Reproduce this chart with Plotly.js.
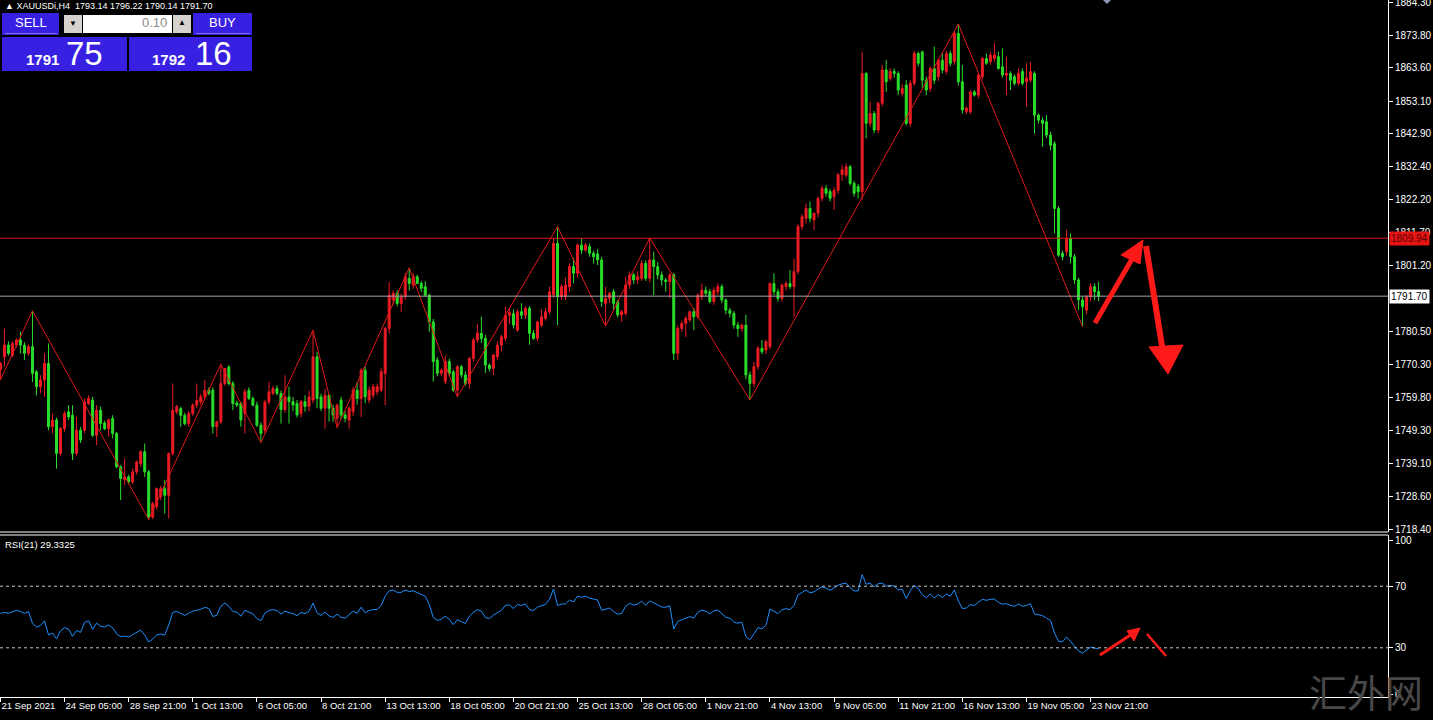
<!DOCTYPE html>
<html><head><meta charset="utf-8">
<script src="https://cdn.plot.ly/plotly-3.0.1.min.js"></script>
<style>html,body{margin:0;padding:0;background:#000;overflow:hidden}#chart{width:1433px;height:720px}</style>
</head><body><div id="chart"></div>
<script>
// ---------- DATA ----------
const symbolInfo = 'XAUUSDi,H4  1793.14 1796.22 1790.14 1791.70';
const rsiLabel = 'RSI(21) 29.3325';
const tickBars = [0,16,32,48,64,80,96,112,128,144,160,176,192,208,224,240,256,272];
const tickLabels = ['21 Sep 2021','24 Sep 05:00','28 Sep 21:00','1 Oct 13:00','6 Oct 05:00','8 Oct 21:00','13 Oct 13:00','18 Oct 05:00','20 Oct 21:00','25 Oct 13:00','28 Oct 05:00','1 Nov 21:00','4 Nov 13:00','9 Nov 05:00','11 Nov 21:00','16 Nov 13:00','19 Nov 05:00','23 Nov 21:00'];
const priceTicks = [1884.30,1873.80,1863.60,1853.10,1842.90,1832.40,1822.20,1811.70,1801.20,1780.50,1770.30,1759.80,1749.30,1739.10,1728.60,1718.40];
const rsiTicks = [0,30,70,100];
const rsiLevels = [30,70];
const resistanceLevel = 1809.94;
const bidPrice = 1791.70;

const openP = [
1768.5,1772.6,1776.3,1773.1,1776.3,1777.9,1776.3,1773.7,1775.8,1767.9,
1763.2,1765.3,1770.5,1750.6,1752.7,1742.2,1750.0,1755.3,1754.2,1742.2,
1749.5,1749.5,1757.9,1759.0,1747.9,1755.8,1751.8,1750.0,1753.2,1748.5,
1738.0,1734.0,1734.8,1733.2,1736.4,1739.0,1742.7,1736.4,1722.2,1725.4,
1728.5,1731.1,1729.0,1742.2,1755.3,1756.3,1754.2,1751.6,1754.8,1757.4,
1758.4,1760.0,1762.1,1762.1,1750.6,1752.1,1764.2,1769.4,1764.2,1758.1,
1757.9,1754.8,1762.1,1759.5,1757.4,1751.1,1749.5,1758.4,1761.1,1762.6,
1761.1,1756.0,1760.0,1758.5,1757.9,1754.8,1758.5,1757.0,1759.0,1772.6,
1760.0,1756.4,1760.5,1756.4,1753.2,1759.0,1754.3,1752.7,1755.3,1762.1,
1759.5,1768.4,1759.0,1760.5,1761.6,1762.1,1767.4,1781.5,1790.5,1792.6,
1789.4,1791.5,1797.3,1795.2,1797.8,1795.7,1794.7,1792.0,1783.6,1771.6,
1767.4,1764.8,1771.1,1767.9,1762.1,1769.5,1766.9,1764.2,1772.1,1777.9,
1780.0,1778.4,1770.0,1769.0,1772.6,1776.3,1778.4,1785.7,1786.2,1781.0,
1786.8,1785.7,1787.9,1780.0,1778.4,1782.6,1784.7,1786.8,1792.1,1808.3,
1791.5,1791.5,1794.7,1801.0,1798.9,1807.8,1806.2,1807.3,1805.2,1805.0,
1803.1,1789.4,1791.0,1793.1,1789.9,1785.8,1786.3,1795.2,1798.4,1796.8,
1797.3,1802.0,1797.3,1803.1,1801.0,1798.4,1796.8,1796.3,1798.4,1773.7,
1781.5,1783.1,1784.2,1786.8,1785.2,1791.5,1793.6,1793.1,1790.0,1793.1,
1794.7,1790.5,1787.3,1786.3,1782.6,1781.5,1782.6,1766.9,1764.2,1769.5,
1775.3,1774.7,1775.8,1795.7,1793.1,1791.0,1794.7,1795.7,1794.7,1799.4,
1813.6,1816.2,1819.3,1815.7,1817.8,1822.5,1825.6,1824.6,1823.0,1825.0,
1829.9,1829.8,1832.4,1827.2,1826.2,1824.6,1861.8,1846.1,1849.2,1844.0,
1852.4,1862.9,1860.2,1862.4,1861.8,1855.5,1858.2,1846.1,1858.7,1868.1,
1868.6,1859.7,1857.1,1863.4,1860.8,1866.0,1862.4,1868.1,1865.5,1874.4,
1859.2,1849.8,1849.7,1856.0,1855.0,1860.8,1866.5,1865.5,1866.5,1867.1,
1863.9,1861.3,1861.8,1860.8,1858.7,1862.4,1859.2,1859.7,1861.8,1848.7,
1847.1,1846.6,1842.4,1839.7,1819.3,1805.2,1805.7,1809.9,1804.1,1796.8,
1790.5,1787.3,1791.5,1794.7,1793.14];
const highP = [
1771.0,1781.5,1777.5,1777.5,1778.5,1780.5,1777.2,1776.5,1787.1,1768.5,
1766.8,1773.7,1776.8,1754.8,1753.5,1750.5,1755.5,1757.4,1757.4,1753.7,
1750.5,1759.5,1760.5,1760.0,1757.4,1756.9,1752.5,1753.2,1754.2,1749.0,
1738.5,1740.6,1735.5,1737.5,1740.0,1743.2,1745.3,1737.0,1727.0,1731.5,
1732.0,1733.8,1742.5,1764.2,1757.5,1756.9,1755.0,1755.5,1758.0,1764.2,
1761.0,1765.3,1763.0,1763.0,1752.5,1770.3,1769.0,1770.0,1765.0,1758.8,
1758.5,1762.6,1763.0,1760.2,1758.5,1752.0,1759.0,1764.7,1763.5,1763.7,
1762.0,1766.8,1763.2,1760.0,1759.0,1759.0,1760.5,1762.0,1781.0,1774.2,
1761.0,1762.6,1760.8,1757.5,1757.9,1760.0,1755.5,1757.0,1763.0,1764.7,
1769.0,1769.5,1763.2,1764.0,1764.2,1769.0,1782.0,1796.2,1793.5,1793.5,
1792.5,1799.0,1800.6,1799.0,1798.5,1796.5,1796.5,1792.5,1784.5,1772.5,
1769.0,1773.0,1772.0,1768.5,1770.0,1770.0,1768.0,1772.6,1778.5,1783.0,
1785.2,1779.5,1770.5,1773.5,1777.5,1779.5,1788.5,1788.0,1787.5,1787.5,
1789.5,1788.5,1788.5,1781.0,1784.0,1787.5,1788.0,1794.7,1810.0,1813.6,
1795.5,1797.5,1802.0,1803.8,1808.3,1809.9,1808.5,1808.3,1806.0,1806.5,
1804.1,1794.7,1793.0,1794.0,1790.5,1787.5,1797.8,1799.5,1799.0,1799.5,
1803.1,1803.0,1810.0,1805.7,1802.5,1799.5,1797.5,1799.0,1799.0,1782.5,
1784.0,1785.5,1787.0,1788.0,1792.6,1795.7,1794.7,1794.0,1794.5,1795.7,
1795.5,1791.0,1788.0,1787.0,1783.5,1783.1,1785.8,1768.0,1771.0,1776.0,
1777.9,1778.0,1796.0,1798.9,1794.0,1795.7,1796.5,1799.9,1803.5,1814.5,
1817.5,1820.9,1821.5,1818.0,1823.0,1826.5,1826.7,1825.5,1826.0,1830.5,
1833.0,1833.5,1833.0,1828.0,1827.0,1868.6,1862.3,1852.9,1850.0,1853.0,
1864.5,1866.0,1863.5,1863.4,1862.5,1858.5,1859.7,1859.7,1869.0,1868.7,
1869.0,1860.8,1864.0,1870.2,1866.5,1868.1,1869.0,1869.0,1875.0,1877.4,
1864.5,1851.5,1856.5,1856.6,1862.0,1867.0,1868.1,1868.7,1871.3,1868.7,
1869.7,1867.1,1862.5,1861.5,1863.4,1863.4,1865.0,1865.5,1862.5,1849.2,
1848.0,1848.7,1843.5,1840.5,1820.0,1806.0,1812.5,1811.5,1805.0,1797.5,
1791.5,1792.0,1795.7,1795.7,1796.22];
const lowP = [
1765.3,1769.5,1773.0,1772.5,1775.5,1773.7,1771.6,1773.0,1764.7,1760.5,
1761.1,1760.0,1749.5,1748.5,1737.4,1741.5,1749.0,1752.7,1740.1,1741.5,
1745.5,1748.5,1757.4,1747.4,1744.8,1749.5,1749.5,1747.4,1746.9,1737.5,
1727.5,1732.2,1732.5,1732.5,1735.5,1738.0,1734.8,1721.4,1721.5,1724.5,
1727.5,1723.3,1721.7,1741.5,1754.5,1750.6,1751.0,1750.6,1754.0,1756.5,
1757.5,1759.5,1760.5,1748.5,1747.4,1751.5,1763.5,1763.5,1755.8,1756.8,
1750.6,1748.5,1759.0,1757.0,1750.5,1745.6,1748.5,1757.5,1760.5,1760.5,
1751.6,1755.0,1751.6,1755.5,1753.5,1753.5,1755.3,1755.5,1758.0,1756.4,
1755.5,1750.0,1752.2,1752.2,1750.3,1753.0,1752.0,1750.0,1754.0,1757.5,
1753.7,1758.0,1758.0,1759.5,1760.5,1761.5,1757.4,1780.0,1789.0,1788.5,
1786.8,1790.5,1793.5,1794.0,1795.5,1793.0,1791.5,1780.5,1764.8,1766.5,
1766.5,1764.0,1766.5,1761.6,1760.0,1766.0,1763.5,1762.6,1771.0,1777.0,
1777.0,1767.5,1768.0,1766.8,1771.5,1774.2,1777.5,1783.0,1781.5,1780.5,
1784.5,1784.5,1776.4,1778.0,1777.5,1782.0,1784.0,1786.0,1791.0,1782.6,
1790.5,1790.5,1793.0,1795.7,1797.5,1805.0,1805.5,1804.1,1802.0,1801.5,
1788.4,1782.3,1789.5,1787.3,1785.0,1783.6,1785.5,1794.0,1795.5,1795.5,
1796.5,1796.5,1796.0,1792.0,1797.0,1795.0,1793.1,1791.0,1771.6,1771.6,
1780.5,1778.9,1783.5,1781.0,1784.5,1790.5,1791.5,1789.4,1789.0,1792.0,
1789.5,1786.0,1785.0,1781.5,1778.9,1780.5,1765.5,1759.0,1763.0,1768.5,
1773.5,1773.5,1775.0,1792.0,1790.0,1790.0,1793.5,1794.0,1785.2,1798.5,
1812.5,1814.5,1815.0,1812.5,1816.5,1821.5,1823.0,1821.5,1818.8,1824.0,
1828.0,1829.0,1826.5,1823.0,1822.5,1822.0,1841.4,1845.0,1843.0,1843.0,
1851.5,1856.0,1859.5,1860.5,1855.0,1854.5,1845.5,1845.0,1858.0,1864.0,
1857.1,1855.0,1856.0,1858.5,1859.5,1861.8,1861.5,1864.0,1864.5,1858.0,
1849.2,1849.0,1849.0,1854.5,1854.0,1860.0,1864.5,1864.5,1865.5,1863.0,
1860.5,1855.0,1856.6,1858.0,1858.0,1858.0,1851.3,1859.0,1842.9,1846.0,
1838.7,1841.5,1837.6,1811.5,1804.1,1803.0,1804.5,1802.0,1795.5,1787.3,
1782.1,1786.0,1790.0,1790.5,1790.14];
const closeP = [
1770.5,1776.3,1773.7,1776.8,1777.9,1776.3,1773.7,1775.8,1767.4,1763.2,
1765.3,1770.5,1750.6,1752.7,1742.2,1750.0,1754.8,1753.7,1742.2,1749.5,
1746.4,1758.4,1759.5,1747.9,1755.8,1751.6,1750.0,1752.7,1748.5,1738.0,
1734.3,1734.8,1733.2,1736.4,1739.5,1742.7,1736.4,1722.2,1726.4,1731.1,
1731.1,1729.0,1742.2,1755.8,1756.9,1754.2,1751.6,1754.8,1757.4,1758.9,
1760.0,1762.1,1761.1,1750.6,1752.1,1764.2,1768.9,1764.2,1757.9,1757.4,
1752.7,1761.6,1759.5,1757.4,1751.1,1748.5,1758.4,1761.6,1762.6,1761.1,
1756.0,1760.0,1758.5,1757.4,1754.3,1758.5,1757.0,1760.0,1772.6,1759.5,
1756.4,1760.5,1756.4,1754.3,1757.4,1754.3,1753.2,1756.4,1762.1,1759.5,
1768.4,1760.0,1762.1,1763.2,1763.2,1767.9,1781.5,1792.0,1792.6,1789.4,
1791.5,1797.8,1795.7,1797.8,1795.7,1794.2,1792.0,1783.6,1771.1,1767.4,
1768.4,1771.1,1767.4,1762.1,1769.5,1766.9,1764.2,1772.1,1777.9,1780.0,
1778.4,1770.0,1768.9,1773.2,1776.3,1778.9,1785.7,1786.5,1782.6,1786.8,
1785.7,1787.9,1780.0,1778.4,1783.6,1785.2,1786.8,1793.1,1808.3,1791.5,
1794.7,1795.2,1801.0,1798.9,1807.8,1806.2,1807.8,1805.2,1804.1,1803.1,
1790.0,1791.0,1792.6,1789.4,1785.8,1786.8,1795.2,1798.4,1796.8,1797.8,
1802.0,1797.3,1803.1,1801.0,1798.4,1796.8,1796.3,1798.4,1773.7,1781.5,
1783.1,1784.7,1786.8,1785.2,1792.0,1793.6,1792.6,1790.0,1793.6,1794.7,
1790.5,1787.3,1786.3,1782.6,1781.5,1782.6,1766.9,1764.2,1769.5,1775.3,
1774.2,1777.4,1795.7,1793.1,1791.0,1795.2,1795.7,1794.7,1799.4,1813.6,
1816.7,1819.3,1816.2,1817.8,1822.5,1825.6,1824.1,1822.5,1825.0,1829.9,
1831.5,1832.4,1827.2,1824.1,1824.6,1861.8,1846.1,1849.2,1844.0,1852.4,
1862.9,1859.2,1862.4,1861.8,1856.6,1857.1,1846.1,1858.7,1868.1,1865.0,
1859.7,1856.6,1863.4,1859.7,1866.0,1862.9,1868.1,1865.0,1874.4,1859.2,
1850.3,1850.9,1856.0,1855.0,1861.3,1866.5,1865.0,1867.6,1867.6,1863.4,
1861.3,1861.8,1859.7,1858.7,1861.8,1858.7,1860.3,1862.4,1848.7,1847.1,
1846.1,1842.4,1839.2,1819.3,1804.6,1804.1,1809.9,1804.1,1796.8,1790.5,
1788.4,1791.5,1794.7,1793.1,1791.70];
const rsiValues = [
52.3,53,52.5,53.6,54.3,53.6,52.3,53.5,46,43.5,
44.5,47.5,38.5,39.5,35.8,41,43,42.2,37.5,41.3,
40,46.5,47.5,42,46,44,43.5,44.8,43,39,
37.2,37.6,37,38.5,40.2,41.5,38.3,33.8,35.7,38.3,
39,38.2,44.9,53,53.7,52.2,51,52.5,53.8,54.4,
55,56.2,55.6,50.3,51.2,57,59,57,53.6,53.1,
50.5,54.4,53.2,52,49,47.6,52.5,54.2,54.8,54.2,
51.8,53.8,52.8,52.3,50.9,53,52.2,53.8,59,52.8,
51,53.2,50.8,49.7,51.8,49.8,49.2,51.2,53.8,52.3,
56.4,52.8,54.2,54.8,54.9,57.5,63.5,67,67.5,66,
66,67.5,66.5,67,66,65,63.5,58,49.8,47.8,
48.5,50.5,48.5,45,48.3,47,45.8,50.5,53,54.8,
53.8,49.7,49,51.2,53,54.3,57.6,57.8,55.5,58.2,
57.5,58.4,54.8,54.2,56.4,57.5,58.2,61.5,68.2,57.4,
58.4,58.5,61,59.8,63.6,62.8,63.5,62.3,61.6,61,
54.3,55,55.8,53.6,51.8,52.3,57,58.9,57.8,58.3,
60.3,57.6,60.5,59.2,57.6,56.5,56.3,57.3,42.2,47,
48.2,49.1,50.3,49.3,53,54.4,53.8,52,54,54.5,
51.8,49.8,49.2,46.6,46,46.6,37.2,35.3,39,43,
42.4,44.6,55.2,53.5,52.2,54.8,55.4,54.8,57.6,64.4,
66.1,67.5,65.7,66.3,68.2,69.6,68.7,67.4,68.8,70.7,
71.5,72,69,66.9,67,77.5,71.3,72,69.6,71.6,
72,70,70.5,70,67.5,68,62,67,70.5,68.5,
64.5,62.5,65,62.3,64.5,62.7,65,63.5,67.5,60.5,
55.5,55.8,58,57.5,59.5,61.5,60.8,61.5,61.6,59.5,
58.4,58.6,57.6,57,58.4,57,57.5,58.6,52,51.3,
50.9,49.2,47.8,39.5,34.2,33.9,37,34.2,31,27.9,
26.6,28.5,30.5,29.8,29.33];
const zigzagBars = [0,8,37,55,65,78,84,102,114,139,151,162,187,239,270];
const zigzagPrices = [1765.3,1787.1,1721.4,1770.3,1745.6,1781.0,1750.3,1800.6,1760.0,1813.6,1782.3,1810.0,1759.0,1877.4,1782.1];

// ---------- CHART ----------
const bars = openP.map((_, i) => i);
const W = 1388, H = 697;             // plot area in px
const pX = px => px / W;
const pY = py => (H - py) / H;
const xRange = [-0.1, 346.2];
const yRange = [1717.46, 1884.93];
const rsiRange = [-1.95, 103.25];
const toBar = px => px / (W / (xRange[1] - xRange[0])) + xRange[0];
const toPrice = py => yRange[1] - py * (yRange[1] - yRange[0]) / 532;
const toRsi = py => rsiRange[1] - (py - 535) * (rsiRange[1] - rsiRange[0]) / 162;

const RED = '#ec1c24', GREEN = '#2add2a';

const traces = [
  {type:'candlestick', x:bars, open:openP, high:highP, low:lowP, close:closeP,
   xaxis:'x', yaxis:'y', whiskerwidth:0, hoverinfo:'skip',
   increasing:{line:{color:RED, width:1}, fillcolor:RED},
   decreasing:{line:{color:GREEN, width:1}, fillcolor:GREEN}},
  {type:'scatter', mode:'lines', x:zigzagBars, y:zigzagPrices, xaxis:'x', yaxis:'y',
   line:{color:'#e01818', width:1}, hoverinfo:'skip'},
  {type:'scatter', mode:'lines', x:bars, y:rsiValues, xaxis:'x2', yaxis:'y2',
   line:{color:'#1e8fff', width:1}, hoverinfo:'skip'}
];

const shapes = [];
const annotations = [];
// horizontal levels
shapes.push({type:'line', xref:'paper', x0:0, x1:1, yref:'y', y0:resistanceLevel, y1:resistanceLevel, line:{color:'#e41414', width:1}});
shapes.push({type:'line', xref:'paper', x0:0, x1:1, yref:'y', y0:bidPrice, y1:bidPrice, line:{color:'#a4a4ac', width:1}});
rsiLevels.forEach(v => shapes.push({type:'line', xref:'paper', x0:0, x1:1, yref:'y2', y0:v, y1:v, line:{color:'#c8c8c8', width:1, dash:'3px,3px'}}));
// pane separators
shapes.push({type:'line', xref:'paper', yref:'paper', x0:0, x1:1, y0:pY(532), y1:pY(532), line:{color:'#ffffff', width:1}});
shapes.push({type:'line', xref:'paper', yref:'paper', x0:0, x1:1, y0:pY(535), y1:pY(535), line:{color:'#ffffff', width:1}});
// small marker at top
shapes.push({type:'path', xref:'paper', yref:'paper', path:`M ${pX(1103)} ${pY(0)} L ${pX(1111)} ${pY(0)} L ${pX(1107)} ${pY(4)} Z`, fillcolor:'#8a9ab0', line:{width:0}});

// hand-drawn arrows
const seg = (x0,y0,x1,y1,w,ref) => ({type:'line', xref:'x', yref:ref, x0:toBar(x0), x1:toBar(x1),
  y0: ref==='y' ? toPrice(y0) : toRsi(y0), y1: ref==='y' ? toPrice(y1) : toRsi(y1), line:{color:'#ff1a1a', width:w}});
const tri = (pts, ref) => ({type:'path', xref:'x', yref:ref,
  path: 'M ' + pts.map(p => `${toBar(p[0])},${ref==='y'?toPrice(p[1]):toRsi(p[1])}`).join(' L ') + ' Z',
  fillcolor:'#ff1a1a', line:{color:'#ff1a1a', width:1}});
shapes.push(seg(1095,323,1136,252,5,'y'));
shapes.push(tri([[1143,240],[1140,264],[1121,255]],'y'));
shapes.push(seg(1146,246,1163,352,6,'y'));
shapes.push(tri([[1168,374],[1149,347],[1183,345]],'y'));
shapes.push(seg(1100,655,1132,634,3,'y2'));
shapes.push(tri([[1140,628],[1127,631],[1134,641]],'y2'));
shapes.push(seg(1147,634,1166,656,2.5,'y2'));

// price labels on the right axis
annotations.push({xref:'paper', x:pX(1389), xanchor:'left', yref:'y', y:resistanceLevel, yanchor:'middle',
  text:resistanceLevel.toFixed(2), showarrow:false, bgcolor:'#e41414', borderpad:1,
  font:{family:'Liberation Sans, Arial', size:10, color:'#600000'}});
annotations.push({xref:'paper', x:pX(1389), xanchor:'left', yref:'y', y:bidPrice, yanchor:'middle',
  text:bidPrice.toFixed(2), showarrow:false, bgcolor:'#ffffff', borderpad:1,
  font:{family:'Liberation Sans, Arial', size:10, color:'#000000'}});
// header texts
annotations.push({xref:'paper', yref:'paper', x:pX(3), y:pY(6), xanchor:'left', yanchor:'middle', showarrow:false,
  text:'▲ ' + symbolInfo, font:{family:'Liberation Sans, Arial', size:9, color:'#ffffff'}});
annotations.push({xref:'paper', yref:'paper', x:pX(3), y:pY(544), xanchor:'left', yanchor:'middle', showarrow:false,
  text:rsiLabel, font:{family:'Liberation Sans, Arial', size:9.5, color:'#ffffff'}});

// one-click trading panel
const rect = (x0,y0,x1,y1,fill) => ({type:'rect', xref:'paper', yref:'paper', x0:pX(x0), x1:pX(x1), y0:pY(y1), y1:pY(y0), fillcolor:fill, line:{width:0}});
const PANEL = '#3820e2';
shapes.push(rect(2,13,59,35,PANEL));
shapes.push(rect(193,13,252,35,PANEL));
shapes.push(rect(2,37,127,71,PANEL));
shapes.push(rect(129,37,252,71,PANEL));
shapes.push(rect(5,33,57,34,'#7c6cf8'));
shapes.push(rect(196,33,250,34,'#7c6cf8'));
shapes.push(rect(64,15,82,33,'#d6d3ce'));
shapes.push(rect(83,15,172,33,'#ffffff'));
shapes.push(rect(173,15,191,33,'#d6d3ce'));
const ptxt = (x,y,t,size,color,anchor,weight) => annotations.push({xref:'paper', yref:'paper', x:pX(x), y:pY(y),
  xanchor:anchor||'center', yanchor:'middle', showarrow:false, text:t,
  font:{family:'Liberation Sans, Arial', size:size, color:color, weight:weight||'normal'}});
ptxt(31,23,'SELL',13,'#ffffff');
ptxt(222,23,'BUY',13,'#ffffff');
ptxt(169,23,'0.10',13,'#8c8c8c','right');
ptxt(73,24,'▼',8,'#000000');
ptxt(182,23,'▲',8,'#000000');
ptxt(42,60,'1791',15,'#ffffff','center','bold');
ptxt(84,53,'75',33,'#ffffff');
ptxt(168,60,'1792',15,'#ffffff','center','bold');
ptxt(213,53,'16',33,'#ffffff');
// watermark
annotations.push({xref:'paper', yref:'paper', x:pX(1366), y:pY(690), xanchor:'center', yanchor:'middle', showarrow:false,
  text:'汇外网', font:{family:'Noto Sans CJK SC', size:38, color:'#484848'}});

const axisFont = {family:'Liberation Sans, Arial, sans-serif', size:10, color:'#ffffff'};
const layout = {
  width:1433, height:720,
  paper_bgcolor:'#000000', plot_bgcolor:'#000000',
  margin:{l:0, r:45, t:0, b:23, pad:0},
  showlegend:false, dragmode:false,
  font:axisFont,
  xaxis:{domain:[0,1], anchor:'y', range:xRange, showticklabels:false, ticks:'', showgrid:false, zeroline:false,
    showline:false, rangeslider:{visible:false}, fixedrange:true},
  xaxis2:{domain:[0,1], anchor:'y2', range:xRange, matches:'x', tickmode:'array', tickvals:tickBars, ticktext:tickLabels,
    tickangle:0, ticks:'outside', ticklen:4, tickcolor:'#ffffff', ticklabelposition:'outside right',
    ticklabeloverflow:'allow',
    tickfont:{family:'Liberation Sans, Arial, sans-serif', size:9.5, color:'#ffffff'},
    showline:true, linecolor:'#ffffff', linewidth:1, showgrid:false, zeroline:false, fixedrange:true},
  yaxis:{domain:[pY(532),1], anchor:'x', side:'right', range:yRange, tickmode:'array', tickvals:priceTicks,
    ticktext:priceTicks.map(v=>v.toFixed(2)), ticks:'outside', ticklen:4, tickcolor:'#ffffff', tickfont:axisFont,
    ticklabeloverflow:'allow',
    showline:true, linecolor:'#ffffff', linewidth:1, showgrid:false, zeroline:false, fixedrange:true},
  yaxis2:{domain:[0,pY(535)], anchor:'x2', side:'right', range:rsiRange, tickmode:'array', tickvals:rsiTicks,
    ticktext:rsiTicks.map(String), ticks:'outside', ticklen:4, tickcolor:'#ffffff', tickfont:axisFont,
    ticklabeloverflow:'allow',
    showline:true, linecolor:'#ffffff', linewidth:1, showgrid:false, zeroline:false, fixedrange:true},
  shapes:shapes, annotations:annotations
};
Plotly.newPlot('chart', traces, layout, {displayModeBar:false, staticPlot:true});
</script>
</body></html>
